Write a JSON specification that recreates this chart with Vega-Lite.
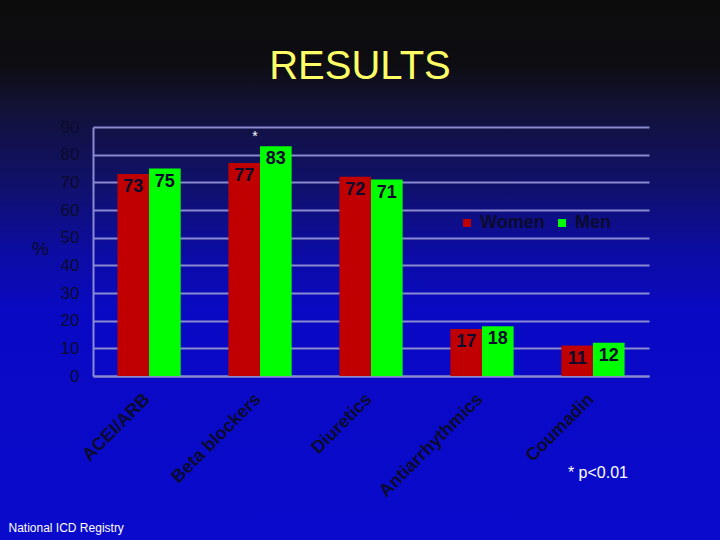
{
  "$schema": "https://vega.github.io/schema/vega-lite/v6.json",
  "width": 720,
  "height": 540,
  "padding": 0,
  "autosize": {"type": "none"},
  "background": "#0a0acc",
  "view": {
    "stroke": null,
    "fill": {
      "gradient": "linear",
      "x1": 0, "y1": 0, "x2": 0, "y2": 1,
      "stops": [
        {"offset": 0, "color": "#0c0c0c"},
        {"offset": 0.12, "color": "#0d0d12"},
        {"offset": 0.2, "color": "#121238"},
        {"offset": 0.35, "color": "#10106e"},
        {"offset": 0.47, "color": "#0c0ca4"},
        {"offset": 0.58, "color": "#0909c4"},
        {"offset": 1, "color": "#0a0acc"}
      ]
    }
  },
  "config": {"font": "Liberation Sans"},
  "title": {
    "text": "RESULTS",
    "color": "#ffff66",
    "font": "Liberation Sans Narrow, Arial Narrow, Liberation Sans",
    "fontSize": 40,
    "fontWeight": "normal",
    "anchor": "middle",
    "frame": "group",
    "baseline": "top",
    "offset": -87
  },
  "data": {
    "values": [
      {"drug": "ACEI/ARB", "sex": "Women", "value": 73},
      {"drug": "ACEI/ARB", "sex": "Men", "value": 75},
      {"drug": "Beta blockers", "sex": "Women", "value": 77},
      {"drug": "Beta blockers", "sex": "Men", "value": 83, "sig": "*"},
      {"drug": "Diuretics", "sex": "Women", "value": 72},
      {"drug": "Diuretics", "sex": "Men", "value": 71},
      {"drug": "Antiarrhythmics", "sex": "Women", "value": 17},
      {"drug": "Antiarrhythmics", "sex": "Men", "value": 18},
      {"drug": "Coumadin", "sex": "Women", "value": 11},
      {"drug": "Coumadin", "sex": "Men", "value": 12}
    ]
  },
  "encoding": {
    "x": {
      "field": "drug",
      "type": "nominal",
      "sort": ["ACEI/ARB", "Beta blockers", "Diuretics", "Antiarrhythmics", "Coumadin"],
      "scale": {"range": [93, 649], "paddingInner": 0.43, "paddingOuter": 0.22},
      "axis": {
        "offset": -164,
        "domain": true,
        "domainColor": "#8a8ad0",
        "domainWidth": 2,
        "ticks": false,
        "tickSize": 0,
        "grid": false,
        "labelAngle": -45,
        "labelOffset": -8,
        "labelFontSize": 18,
        "labelFontWeight": "bold",
        "labelColor": "#0b0b2e",
        "labelPadding": 14,
        "title": "National ICD Registry",
        "titleX": 8,
        "titleY": 155,
        "titleAlign": "left",
        "titleAnchor": "start",
        "titleBaseline": "alphabetic",
        "titleFontSize": 12,
        "titleFontWeight": "normal",
        "titleColor": "#ffffff"
      }
    },
    "y": {
      "field": "value",
      "type": "quantitative",
      "scale": {"domain": [0, 90], "range": [376, 127], "nice": false, "zero": true},
      "axis": {
        "offset": -93,
        "values": [0, 10, 20, 30, 40, 50, 60, 70, 80, 90],
        "domain": true,
        "domainColor": "#8a8ad0",
        "domainWidth": 2,
        "grid": true,
        "gridColor": "#8a8ad0",
        "gridWidth": 2,
        "ticks": false,
        "tickSize": 0,
        "labelPadding": 14,
        "labelFontSize": 17,
        "labelColor": "#0b0b2e",
        "title": "%",
        "titleAngle": 0,
        "titleX": -53,
        "titleY": 248,
        "titleAlign": "center",
        "titleBaseline": "middle",
        "titleFontSize": 19,
        "titleFontWeight": "normal",
        "titleColor": "#0b0b2e"
      }
    }
  },
  "layer": [
    {
      "mark": {"type": "bar"},
      "encoding": {
        "xOffset": {"field": "sex", "type": "nominal", "sort": ["Women", "Men"], "scale": {"paddingInner": 0, "paddingOuter": 0}},
        "color": {
          "field": "sex",
          "type": "nominal",
          "sort": ["Women", "Men"],
          "scale": {"domain": ["Women", "Men"], "range": ["#c00000", "#00ff00"]},
          "legend": {
            "orient": "none",
            "legendX": 458,
            "legendY": 214,
            "direction": "horizontal",
            "title": null,
            "symbolType": "square",
            "symbolSize": 64,
            "symbolStrokeWidth": 0,
            "labelFontSize": 18,
            "labelFontWeight": "bold",
            "labelColor": "#0b0b2e",
            "labelOffset": 4,
            "columnPadding": 8
          }
        }
      }
    },
    {
      "mark": {"type": "text", "dy": 13, "baseline": "middle", "fontSize": 18, "fontWeight": "bold", "color": "#0b0b2e"},
      "encoding": {
        "xOffset": {"field": "sex", "type": "nominal", "sort": ["Women", "Men"], "scale": {"paddingInner": 0, "paddingOuter": 0}},
        "text": {"field": "value", "type": "quantitative"}
      }
    },
    {
      "transform": [{"filter": "datum.sig"}],
      "mark": {"type": "text", "dy": -9, "dx": -5, "baseline": "middle", "fontSize": 14, "color": "#ffffff"},
      "encoding": {"text": {"field": "sig", "type": "nominal"}}
    },
    {
      "data": {"values": [{"drug": "Coumadin", "note": "* p<0.01", "value": -35}]},
      "mark": {"type": "text", "dx": 5, "baseline": "middle", "fontSize": 16, "color": "#ffffff"},
      "encoding": {
        "text": {"field": "note", "type": "nominal"}
      }
    }
  ]
}
